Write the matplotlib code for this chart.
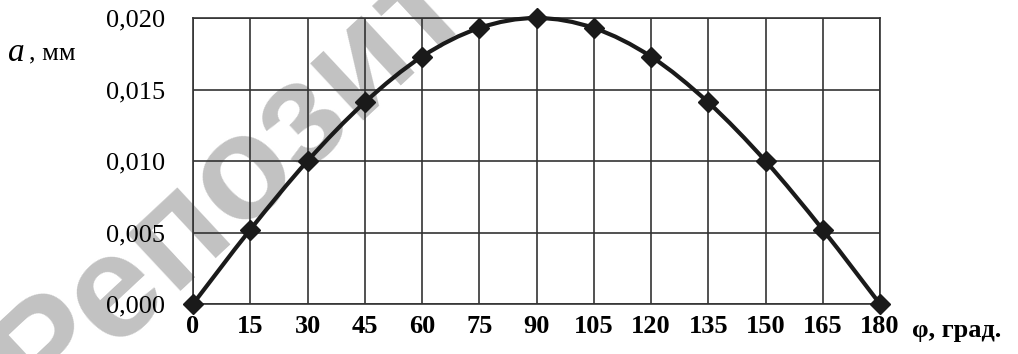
import numpy as np
import matplotlib.pyplot as plt
from matplotlib.path import Path
from matplotlib.patches import PathPatch

# data
phi = [0, 15, 30, 45, 60, 75, 90, 105, 120, 135, 150, 165, 180]
a_mm = [0.0, 0.0052, 0.0100, 0.0141, 0.0173, 0.0193, 0.0200,
        0.0193, 0.0173, 0.0141, 0.0100, 0.0052, 0.0]
yticks = [0.0, 0.005, 0.010, 0.015, 0.020]
ytick_labels = ["0,000", "0,005", "0,010", "0,015", "0,020"]

plt.rcParams['font.family'] = ['Liberation Serif', 'DejaVu Serif']

fig = plt.figure(figsize=(10.18, 3.54), dpi=100)
ax = fig.add_axes([193/1018, 1-304/354, (880-193)/1018, (304-18)/354])
ax.patch.set_alpha(0)

ax.set_xlim(0, 180)
ax.set_ylim(0, 0.020)
ax.set_xticks(phi)
ax.set_xticklabels([str(p) for p in phi], fontsize=19, fontweight='bold')
ax.set_yticks(yticks)
ax.set_yticklabels(ytick_labels, fontsize=19)
ax.tick_params(axis='x', length=0, pad=8)
ax.tick_params(axis='y', length=0, pad=20)
ax.grid(True, color='#333333', linewidth=1.2)
for s in ax.spines.values():
    s.set_color('#333333')
    s.set_linewidth(1.2)

# smooth line through the points (Catmull-Rom style bezier, like Excel)
x = np.array(phi, float)
y = np.array(a_mm, float)
verts = [(x[0], y[0])]
codes = [Path.MOVETO]
for i in range(len(x) - 1):
    p0 = (x[i-1], y[i-1]) if i > 0 else (x[i], y[i])
    p3 = (x[i+2], y[i+2]) if i + 2 < len(x) else (x[i+1], y[i+1])
    c1 = (x[i] + (x[i+1] - p0[0]) / 6, y[i] + (y[i+1] - p0[1]) / 6)
    c2 = (x[i+1] - (p3[0] - x[i]) / 6, y[i+1] - (p3[1] - y[i]) / 6)
    verts += [c1, c2, (x[i+1], y[i+1])]
    codes += [Path.CURVE4] * 3
ax.add_patch(PathPatch(Path(verts, codes), fill=False, edgecolor='#1a1a1a',
                       linewidth=3, zorder=4, clip_on=False))
ax.plot(phi, a_mm, linestyle='none', marker='D', markersize=10,
        color='#1a1a1a', zorder=5, clip_on=False)

fig.text(8/1018, 1-53/354, "a", fontsize=24, va='center', ha='left',
         style='italic')
fig.text(29/1018, 1-53/354, ", мм", fontsize=19, va='center', ha='left')
fig.text(912/1018, 1-331/354, "φ, град.", fontsize=19, fontweight='bold',
         va='center', ha='left')

# watermark (behind the grid and labels)
fig.text(45/1018, -64/354, "Репозиторий БНТУ", fontsize=106, rotation=43,
         color='#c2c2c2', family='Liberation Sans', fontweight='bold',
         ha='left', va='baseline', zorder=-1, rotation_mode='anchor')

fig.savefig("out.png", dpi=100)
